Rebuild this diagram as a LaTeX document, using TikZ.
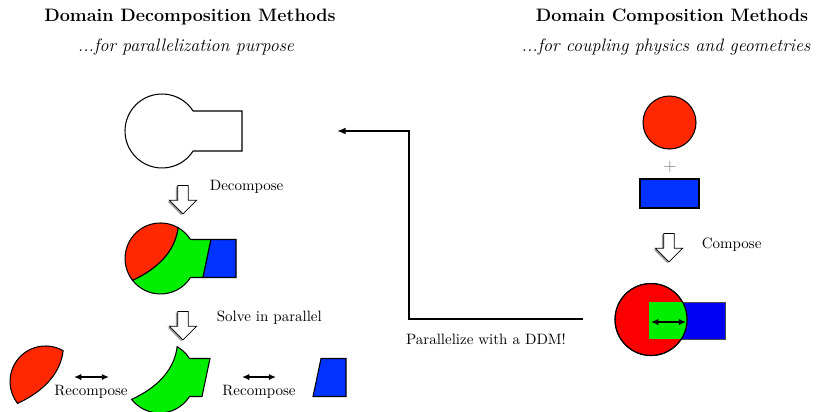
\documentclass[tikz,border=0pt]{standalone}
\usepackage{tikz}
\usetikzlibrary{arrows.meta,shapes.arrows,shadows,calc}
\definecolor{ddred}{RGB}{255,40,0}
\definecolor{ddgreen}{RGB}{0,238,0}
\definecolor{ddblue}{RGB}{0,51,255}
\definecolor{dcred}{RGB}{250,0,0}
\definecolor{dcblue}{RGB}{0,0,245}
\tikzset{
  title/.style={font=\large\bfseries, inner sep=1pt},
  subtitle/.style={font=\large\itshape, inner sep=1pt},
  note/.style={font=\normalsize, inner sep=1pt},
  piece/.style={draw=black, line width=0.7pt},
  hollow/.style={single arrow, draw=black, fill=white, line width=0.5pt, inner sep=3.3pt,
    single arrow head extend=5.6pt, minimum height=19pt, rotate=-90,
    drop shadow={shadow xshift=-1.2pt, shadow yshift=-0.8pt, opacity=0.8}},
  arrow/.style={-{Latex[length=2mm,width=1.6mm]}, line width=1.1pt},
  dblarrow/.style={{Latex[length=1.7mm,width=1.5mm]}-{Latex[length=1.7mm,width=1.5mm]}, line width=1.1pt}
}
% pieces of the keyhole domain, relative to the circle centre
\newcommand{\redpart}{(17.64,-30.82) arc[start angle=-60.2, end angle=-218.1, radius=35.5]
  .. controls (-2,10) and (15,-8) .. (17.64,-30.82) -- cycle}
\newcommand{\greenpart}{(17.64,-30.82) arc[start angle=-60.2, end angle=-32.4, radius=35.5]
  -- (50.5,-19) -- (42.5,19) -- (30,19) arc[start angle=32.4, end angle=141.9, radius=35.5]
  .. controls (-2,10) and (15,-8) .. (17.64,-30.82) -- cycle}
\newcommand{\bluepart}{(50.5,-19) -- (75.5,-19) -- (75.5,19) -- (42.5,19) -- cycle}

\begin{document}
\begin{tikzpicture}[x=0.667pt,y=-0.667pt]
\useasboundingbox (0,0) rectangle (816,411);

\node[title] (ddmtitle) at (190,17) {Domain Decomposition Methods};
\node[subtitle] (ddmsub) at (186,47) {...for parallelization purpose};
\node[title] (dcmtitle) at (672,17) {Domain Composition Methods};
\node[subtitle] (dcmsub) at (666,47) {...for coupling physics and geometries};

% left column
\draw[piece, fill=white] (162,131) ++(-32.7:37) arc[start angle=-32.7, end angle=-327.3, radius=37]
  -- (242,151) -- (242,111) -- cycle;
\node[hollow] (decarrow) at (183,197) {};
\node[note, anchor=west] (dectext) at (208,187) {Decompose};

\begin{scope}[shift={(160.5,258.5)}]
  \draw[piece, fill=ddred] \redpart;
  \draw[piece, fill=ddgreen] \greenpart;
  \draw[piece, fill=ddblue] \bluepart;
\end{scope}

\node[hollow] (solvearrow) at (183,323) {};
\node[note, anchor=west] (solvetext) at (215,318) {Solve in parallel};

\begin{scope}[shift={(45.5,381.5)}]
  \draw[piece, fill=ddred] \redpart;
\end{scope}
\begin{scope}[shift={(159.5,377.5)}]
  \draw[piece, fill=ddgreen] \greenpart;
\end{scope}
\begin{scope}[shift={(270.5,377.5)}]
  \draw[piece, fill=ddblue] \bluepart;
\end{scope}

\coordinate (reca) at (74,377);
\coordinate (recb) at (109,377);
\coordinate (recc) at (242,377);
\coordinate (recd) at (276,377);
\draw[dblarrow] (reca) -- (recb);
\draw[dblarrow] (recc) -- (recd);
\node[note] (rectext1) at (91,392) {Recompose};
\node[note] (rectext2) at (259,392) {Recompose};

% right column
\draw[piece, fill=ddred] (669.5,122.5) circle[radius=26.5];
\node[note, text=black!50, font=\large] (plus) at (670,167) {$+$};
\draw[piece, fill=ddblue] (640,179) rectangle (699,208);
\node[hollow] (comparrow) at (669,245) {};
\node[note, anchor=west] (comptext) at (700,245) {Compose};

\draw[draw=black!70, line width=0.4pt, fill=dcblue] (649,302) rectangle (725,339);
\draw[piece, fill=dcred] (651,319.5) circle[radius=36];
\begin{scope}
  \clip (651,319.5) circle[radius=36];
  \fill[ddgreen] (649,302) rectangle (725,339);
\end{scope}
\draw[piece] (651,319.5) circle[radius=36];
\coordinate (ifa) at (651,322);
\coordinate (ifb) at (686,322);
\draw[dblarrow] (ifa) -- (ifb);

% back to the decomposition side
\coordinate (ddmstart) at (583,319);
\coordinate (ddmend) at (337,131);
\draw[arrow] (ddmstart) -- ++(-174,0) |- (ddmend);
\node[note] (ddmtext) at (486,339) {Parallelize with a DDM!};
\end{tikzpicture}
\end{document}
